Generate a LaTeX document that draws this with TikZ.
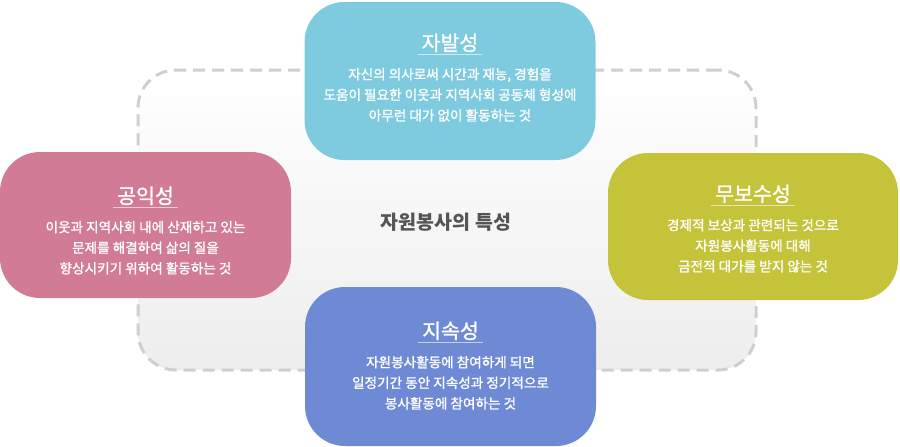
\documentclass[tikz,border=0pt]{standalone}
\usepackage{fontspec}
\setmainfont{Noto Sans CJK KR}
\newfontface\krmid{Noto Sans CJK KR}[FakeBold=1.3]
\usepackage{xcolor}
\usepackage{tikz}
\usetikzlibrary{positioning}

\definecolor{skyc}{HTML}{7ECBE0}
\definecolor{rosec}{HTML}{D17B95}
\definecolor{olivec}{HTML}{C5C33A}
\definecolor{bluec}{HTML}{6F8AD5}
\definecolor{framec}{HTML}{CFCFCF}
\definecolor{inkc}{HTML}{555555}

\begin{document}
\begin{tikzpicture}[x=1pt, y=-1pt,
    card/.style={rounded corners=40pt, minimum width=291pt, inner sep=0pt},
    ttl/.style={text=white, font=\krmid\fontsize{20.5}{20.5}\selectfont, inner xsep=4pt, inner ysep=2.5pt},
    body/.style={text=white, font=\krmid\fontsize{13.6}{20.6}\selectfont, align=center, inner sep=0pt},
    rule/.style={draw=white, draw opacity=0.6, line width=0.8pt},
    frame/.style={draw=framec, line width=3pt, dash pattern=on 12pt off 7pt,
        rounded corners=38pt, top color=white, bottom color=black!7,
        minimum width=618pt, minimum height=300pt}]

    \useasboundingbox (0,0) rectangle (900,447);

    % Dashed frame behind the cards
    \node[frame] (frm) at (447,220) {};

    % Cards
    \node[card, fill=skyc, minimum height=158pt] (jabal) at (450,81) {};
    \node[card, fill=rosec, minimum height=146pt] (gongik) at (145.5,225) {};
    \node[card, fill=olivec, minimum height=147pt, minimum width=290pt] (mubosu) at (753,226.5) {};
    \node[card, fill=bluec, minimum height=159pt] (jisok) at (450.5,366.5) {};

    % Titles
    \node[ttl] (jabalT) at ([yshift=-41pt]jabal.north) {자발성};
    \node[ttl] (gongikT) at ([yshift=-44pt]gongik.north) {공익성};
    \node[ttl] (mubosuT) at ([yshift=-41pt]mubosu.north) {무보수성};
    \node[ttl] (jisokT) at ([yshift=-44pt]jisok.north) {지속성};

    % Underlines
    \draw[rule] (jabalT.south west) -- (jabalT.south east);
    \draw[rule] (gongikT.south west) -- (gongikT.south east);
    \draw[rule] (mubosuT.south west) -- (mubosuT.south east);
    \draw[rule] (jisokT.south west) -- (jisokT.south east);

    % Descriptions
    \node[body, below=13pt of jabalT] (jabalB) {자신의 의사로써 시간과 재능, 경험을\\도움이 필요한 이웃과 지역사회 공동체 형성에\\아무런 대가 없이 활동하는 것};
    \node[body, below=13pt of gongikT] (gongikB) {이웃과 지역사회 내에 산재하고 있는\\문제를 해결하여 삶의 질을\\향상시키기 위하여 활동하는 것};
    \node[body, below=13pt of mubosuT] (mubosuB) {경제적 보상과 관련되는 것으로\\자원봉사활동에 대해\\금전적 대가를 받지 않는 것};
    \node[body, below=13pt of jisokT] (jisokB) {자원봉사활동에 참여하게 되면\\일정기간 동안 지속성과 정기적으로\\봉사활동에 참여하는 것};

    % Centre label
    \node[text=inkc, font=\fontsize{19.5}{19.5}\selectfont\bfseries] (core) at (446,222) {자원봉사의 특성};

\end{tikzpicture}
\end{document}
